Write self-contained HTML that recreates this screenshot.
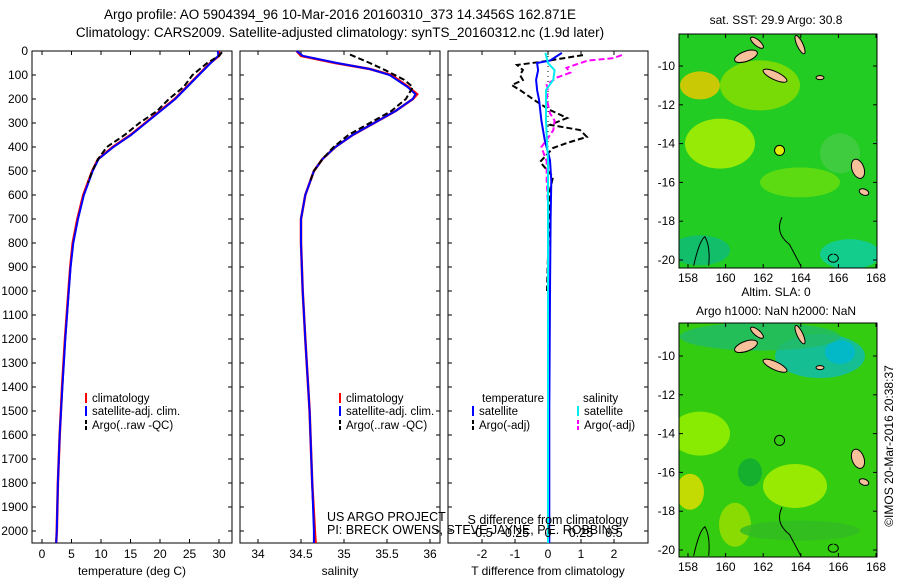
<!DOCTYPE html>
<html><head><meta charset="utf-8"><style>
body{margin:0;background:#fff}
svg{display:block;font-family:"Liberation Sans",sans-serif}
</style></head><body>
<svg id="fig" width="900" height="580" viewBox="0 0 900 580">
<text x="340" y="19" font-size="13.5" text-anchor="middle">Argo profile: AO 5904394_96 10-Mar-2016 20160310_373 14.3456S 162.871E</text>
<text x="340" y="37" font-size="13.5" text-anchor="middle">Climatology: CARS2009. Satellite-adjusted climatology: synTS_20160312.nc (1.9d later)</text>
<g id="plots"></g>
<g id="maps"></g>
<text transform="translate(893,446) rotate(-90)" font-size="12" text-anchor="middle">©IMOS 20-Mar-2016 20:38:37</text>
</svg>
<script>
// ---- data ----
const depthTick = [0,100,200,300,400,500,600,700,800,900,1000,1100,1200,1300,1400,1500,1600,1700,1800,1900,2000];
const tempTicks = [0,5,10,15,20,25,30];
const salTicks = [34,34.5,35,35.5,36];
const salTickLabels = ["34","34.5","35","35.5","36"];
const tdiffTicks = [-2,-1,0,1,2];
const sdiffTicks = [-0.5,-0.25,0,0.25,0.5];
const sdiffTickLabels = ["-0.5","-0.25","0","0.25","0.5"];

const climDepth = [0,20,50,100,150,200,250,300,350,400,450,500,600,700,800,900,1000,1200,1400,1600,1800,2000,2050];
const climTemp = [30,30,28.5,26.5,24.5,22.5,20,17.5,15,12,9.5,8.5,7,6,5.2,4.8,4.5,3.9,3.4,3.0,2.7,2.5,2.4];
const satTemp = [29.8,29.9,28.6,26.6,24.6,22.6,20.1,17.6,15.1,12.1,9.6,8.6,7.1,6.1,5.3,4.85,4.55,3.95,3.45,3.0,2.7,2.5,2.4];
const argoTDepth = [5,20,50,100,150,200,250,300,350,400,450,500,550];
const argoTemp = [30.5,30,28,25.5,24,21.5,19.5,16.5,14,11,9.5,8.5,7.8];

const salDepth = [0,20,50,75,100,150,180,200,250,300,350,400,450,500,600,700,800,1000,1200,1500,1800,2000,2050];
const climSal = [34.45,34.5,34.9,35.3,35.55,35.75,35.85,35.8,35.6,35.35,35.1,34.9,34.75,34.65,34.55,34.5,34.5,34.52,34.55,34.6,34.63,34.66,34.67];
const satSal = [34.45,34.52,34.92,35.3,35.53,35.74,35.83,35.8,35.6,35.35,35.1,34.9,34.75,34.65,34.55,34.5,34.5,34.52,34.55,34.6,34.63,34.65,34.65];
const argoSDepth = [15,50,80,120,150,200,250,300,350,400,450,500,550];
const argoSal = [35.07,35.3,35.48,35.7,35.8,35.72,35.55,35.3,35.05,34.88,34.75,34.65,34.6];

const satTdDepth = [8,40,50,80,120,163,205,290,370,455,540,700,1000,1500,2050];
const satTd = [0.42,0.06,-0.33,-0.3,-0.36,-0.33,-0.27,-0.2,-0.1,0.06,0.1,0.08,0.06,0.04,0.04];
const satSdDepth = [8,50,80,120,163,205,290,370,455,700,1000,1500,2050];
const satSd = [-0.02,0,0.05,0.04,-0.015,-0.015,-0.015,-0.008,0,0,0,0,0];
const argoTdDepth = [17,46,58,79,100,121,142,163,183,212,246,279,308,329,358,383,404,462,525,579,700,850,1000];
const argoTd = [1.06,-0.24,-0.94,-0.76,-0.85,-0.76,-1.1,-0.85,-0.64,-0.33,0.06,0.58,0.06,0.97,1.18,0.58,0.15,-0.24,0.15,0.06,0.02,0.0,-0.03];
const argoSdDepth = [17,30,40,70,90,110,140,165,200,260,290,330,370,400,460,540,640,720];
const argoSd = [0.56,0.49,0.3,0.14,0.17,0.07,-0.01,0,-0.01,0.015,0.05,0.04,-0.01,-0.05,-0.01,-0.01,0,0];

// ---- geometry ----
const NS='http://www.w3.org/2000/svg';
const Y0=51, Y1=543;
const yD = d => 51 + d*0.24;
const panels = [
 {x0:32,x1:232, fx: v=>42+v*5.9},
 {x0:240,x1:440, fx: v=>258+(v-34)*86},
 {x0:448,x1:648, fx: v=>548+v*33}
];
const sx = v=>548+v*132;
const plots=document.getElementById('plots');
function el(tag,attrs,parent){const e=document.createElementNS(NS,tag);for(const k in attrs)e.setAttribute(k,attrs[k]);(parent||plots).appendChild(e);return e;}
function line(xs,ys,fx,color,w,dash,name){
  const pts=xs.map((v,i)=>fx(v).toFixed(1)+','+yD(ys[i]).toFixed(1)).join(' ');
  const p=el('polyline',{points:pts,fill:'none',stroke:color,'stroke-width':w});
  if(dash)p.setAttribute('stroke-dasharray',dash);
  
  
  return p;
}
// frames and ticks
panels.forEach((p,i)=>{
  const r=el('rect',{x:p.x0,y:Y0,width:p.x1-p.x0,height:Y1-Y0,fill:'none',stroke:'#000','stroke-width':1});
  
  
  depthTick.forEach(d=>{
    el('line',{x1:p.x0,x2:p.x0+4,y1:yD(d),y2:yD(d),stroke:'#000'});
    el('line',{x1:p.x1-4,x2:p.x1,y1:yD(d),y2:yD(d),stroke:'#000'});
  });
});
depthTick.forEach(d=>{
  const t=el('text',{x:28,y:yD(d)+4,'font-size':12,'text-anchor':'end'});t.textContent=d;
  
  
});
function xticks(p,ticks,labels,fx,ylab){
  ticks.forEach((v,i)=>{
    const x=fx(v);
    el('line',{x1:x,x2:x,y1:Y1,y2:Y1-4,stroke:'#000'});
    el('line',{x1:x,x2:x,y1:Y0,y2:Y0+4,stroke:'#000'});
    const t=el('text',{x:x,y:ylab,'font-size':12,'text-anchor':'middle'});t.textContent=labels[i];
    
    
  });
}
xticks(panels[0],tempTicks,tempTicks.map(String),panels[0].fx,558);
xticks(panels[1],salTicks,salTickLabels,panels[1].fx,558);
xticks(panels[2],tdiffTicks,tdiffTicks.map(String),panels[2].fx,558);
function label(x,y,txt,name,size,anchor){const t=el('text',{x:x,y:y,'font-size':size||12,'text-anchor':anchor||'middle'});t.textContent=txt;
  
  return t;}
label(132,575,'temperature (deg C)','x-axis-title-temperature');
label(340,575,'salinity','x-axis-title-salinity');
label(548,575,'T difference from climatology','x-axis-title-tdiff');
// zero dotted line
const z=el('line',{x1:548,x2:548,y1:Y0,y2:Y1,stroke:'#000','stroke-dasharray':'1,4'});



// series
line(climTemp,climDepth,panels[0].fx,'#f00',2.5,null,'temp-climatology-line');
line(satTemp,climDepth,panels[0].fx,'#00f',2,null,'temp-satellite-line');
line(argoTemp,argoTDepth,panels[0].fx,'#000',2,'6,3','temp-argo-line');
line(climSal,salDepth,panels[1].fx,'#f00',2.5,null,'sal-climatology-line');
line(satSal,salDepth,panels[1].fx,'#00f',2,null,'sal-satellite-line');
line(argoSal,argoSDepth,panels[1].fx,'#000',2,'6,3','sal-argo-line');
line(argoTd,argoTdDepth,panels[2].fx,'#000',2,'6,3','tdiff-argo-line');
line(argoSd,argoSdDepth,sx,'#f0f',2,'6,3','sdiff-argo-line');
line(satTd,satTdDepth,panels[2].fx,'#00f',2,null,'tdiff-satellite-line');
line(satSd,satSdDepth,sx,'#0ee',2,null,'sdiff-satellite-line');

// legends
function legItem(x,y,color,txt,name,dash){
  const b=el('line',{x1:x,x2:x,y1:y-9,y2:y+1,stroke:color,'stroke-width':2});
  if(dash)b.setAttribute('stroke-dasharray','4,2');
  
  
  label(x+6,y,txt,name,11.5,'start');
}
[[86],[340]].forEach(([x],i)=>{
  legItem(x,402,'#f00','climatology','legend-climatology-'+(i+1));
  legItem(x,415,'#00f','satellite-adj. clim.','legend-satellite-'+(i+1));
  legItem(x,429,'#000','Argo(..raw -QC)','legend-argo-'+(i+1),true);
});
label(482,402,'temperature','legend-temperature-header',11.5,'start');
label(583,402,'salinity','legend-salinity-header',11.5,'start');
legItem(473,415,'#00f','satellite','legend-t-satellite');
legItem(473,429,'#000','Argo(-adj)','legend-t-argo',true);
legItem(578,415,'#0ee','satellite','legend-s-satellite');
legItem(578,429,'#f0f','Argo(-adj)','legend-s-argo',true);
label(327,521,'US ARGO PROJECT','credit-project',12.5,'start');
label(327,534,'PI: BRECK OWENS, STEVE JAYNE, P.E. ROBBINS','credit-pis',12.5,'start');
label(548,524,'S difference from climatology','s-diff-axis-title',12.5,'middle');
sdiffTicks.forEach((v,i)=>{label(sx(v),537,sdiffTickLabels[i],'s-diff-tick-label',12.5,'middle');});

// ---- maps ----
const maps=document.getElementById('maps');
const lonTicks=[158,160,162,164,166,168];
const latTicks=[-10,-12,-14,-16,-18,-20];
const lonX=l=>688+(l-158)*18.8;
function drawMap(top,latY,title1,title2,kind){
  const g=el('g',{},maps);
  
  
  const x0=679,x1=877,y0=top,y1=top+234;
  const id='c'+kind;
  const cp=el('clipPath',{id:id},g);el('rect',{x:x0,y:y0,width:x1-x0,height:y1-y0},cp);
  const inner=el('g',{'clip-path':'url(#'+id+')'},g);
  el('rect',{x:x0,y:y0,width:x1-x0,height:y1-y0,fill:kind==='sst'?'#22cc22':'#33cc11'},inner);
  const blobs = kind==='sst'?[
    [700,latY(-11),20,14,'#e8c800'],[720,latY(-14),35,25,'#aaee00'],[760,latY(-11),40,25,'#88dd00'],
    [840,latY(-14.5),20,20,'#44cc44'],[700,latY(-19.5),30,15,'#11bb77'],[850,latY(-19.7),30,15,'#11cca0'],
    [800,latY(-16),40,15,'#66dd11']]:[
    [820,latY(-10),45,22,'#11bbaa'],[840,latY(-9.8),15,12,'#00b8d0'],[760,latY(-9),80,14,'#22bb66'],
    [700,latY(-14),30,22,'#99ee00'],[690,latY(-17),14,18,'#dddd00'],[795,latY(-16.7),32,22,'#aaee00'],
    [735,latY(-18.7),16,22,'#99dd00'],[750,latY(-16),12,14,'#11aa33'],[800,latY(-19),60,10,'#33bb22']];
  blobs.forEach(b=>el('ellipse',{cx:b[0],cy:b[1],rx:b[2],ry:b[3],fill:b[4],opacity:0.85},inner));
  const isl=[[746,latY(-9.5),12,5,-20],[775,latY(-10.5),13,4,25],[757,latY(-8.8),8,3,40],
    [800,latY(-8.9),3,10,-25],[858,latY(-15.3),6,10,-20],[864,latY(-16.5),5,3,20],[820,latY(-10.6),4,2,0]];
  isl.forEach(s=>el('ellipse',{cx:s[0],cy:s[1],rx:s[2],ry:s[3],transform:'rotate('+s[4]+' '+s[0]+' '+s[1]+')',fill:'#f5c09a',stroke:'#000','stroke-width':1},inner));
  el('path',{d:`M${lonX(158.3)} ${latY(-20.3)} Q${lonX(158.6)} ${latY(-19)} ${lonX(158.9)} ${latY(-18.8)} Q${lonX(159.2)} ${latY(-19.3)} ${lonX(159.1)} ${latY(-20.3)} M${lonX(163)} ${latY(-17.8)} Q${lonX(162.6)} ${latY(-18.6)} ${lonX(163.4)} ${latY(-19.2)} L${lonX(164)} ${latY(-20.3)} M${lonX(165.7)} ${latY(-19.7)} a5 4 0 1 0 1 0`,fill:'none',stroke:'#000','stroke-width':1},inner);
  el('rect',{x:x0,y:y0,width:x1-x0,height:y1-y0,fill:'none',stroke:'#000'},g);
  const c=el('circle',{cx:lonX(162.87),cy:latY(-14.35),r:5,fill:kind==='sst'?'#ddee00':'none',stroke:'#000'},g);
  
  
  lonTicks.forEach(l=>{el('line',{x1:lonX(l),x2:lonX(l),y1:y1,y2:y1-4,stroke:'#000'},g);el('line',{x1:lonX(l),x2:lonX(l),y1:y0,y2:y0+4,stroke:'#000'},g);
    const t=el('text',{x:lonX(l),y:y1+14,'font-size':12,'text-anchor':'middle'},g);t.textContent=l;
    
    });
  latTicks.forEach(l=>{el('line',{x1:x0,x2:x0+4,y1:latY(l),y2:latY(l),stroke:'#000'},g);el('line',{x1:x1-4,x2:x1,y1:latY(l),y2:latY(l),stroke:'#000'},g);
    const t=el('text',{x:675,y:latY(l)+4,'font-size':12,'text-anchor':'end'},g);t.textContent=l;
    
    });
  const t1=el('text',{x:776,y:top-10-(title2?17:0),'font-size':12,'text-anchor':'middle'},g);t1.textContent=title1;
  
  
  if(title2){const t2=el('text',{x:776,y:top-8,'font-size':12,'text-anchor':'middle'},g);t2.textContent=title2;
    
    }
}
drawMap(34,l=>66+(-10-l)*19.4,'sat. SST: 29.9 Argo: 30.8',null,'sst');
drawMap(323,l=>356+(-10-l)*19.4,'Altim. SLA: 0','Argo h1000: NaN h2000: NaN','sla');
</script>
</body></html>
